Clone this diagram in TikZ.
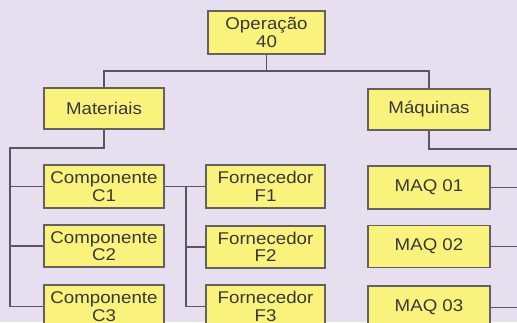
\documentclass[tikz,border=0pt]{standalone}
\usepackage{fontspec}
\newfontfamily\boxfont[FakeStretch=1.1]{Liberation Sans}
\definecolor{bgc}{HTML}{E5DFEF}
\definecolor{boxfill}{HTML}{F9F27C}
\definecolor{boxline}{HTML}{66605E}
\definecolor{linec}{HTML}{5A5660}
\definecolor{txtc}{HTML}{3A3836}
\tikzset{
  box/.style={draw=boxline, fill=boxfill, line width=1.3pt, inner sep=0pt,
    align=center, text=txtc, minimum height=42px,
    font={\boxfont\fontsize{12.75pt}{13.2pt}\selectfont}},
  conn/.style={draw=linec, line width=1.2pt},
}
\begin{document}
\begin{tikzpicture}[x=0.75pt,y=-0.75pt]
\useasboundingbox (0,0) rectangle (517,322);
\fill[bgc] (0,0) rectangle (517,322);
\clip (0,0) rectangle (517,322);

\node[box, minimum width=87.75pt, minimum height=32.25pt] (op) at (266.5,32.5) {Operação\\40};
\node[box, minimum width=90pt, minimum height=30.75pt] (mat) at (104,108.5) {Materiais};
\node[box, minimum width=91.5pt, minimum height=30.75pt] (maq) at (429,109.5) {Máquinas};

\node[box, minimum width=90pt, minimum height=32.25pt] (c1) at (104,186.5) {Componente\\C1};
\node[box, minimum width=90pt, minimum height=31.5pt] (c2) at (104,246) {Componente\\C2};
\node[box, minimum width=90pt, minimum height=32.25pt] (c3) at (104,306.5) {Componente\\C3};

\node[box, minimum width=89.25pt, minimum height=32.25pt] (f1) at (265.5,186.5) {Fornecedor\\F1};
\node[box, minimum width=89.25pt, minimum height=31.5pt] (f2) at (265.5,247) {Fornecedor\\F2};
\node[box, minimum width=89.25pt, minimum height=32.25pt] (f3) at (265.5,306.5) {Fornecedor\\F3};

\node[box, minimum width=91.5pt, minimum height=32.25pt] (m1) at (429,187.5) {MAQ 01};
\node[box, minimum width=91.5pt, minimum height=31.5pt] (m2) at (429,246.5) {MAQ 02};
\node[box, minimum width=91.5pt, minimum height=32.25pt] (m3) at (429,307.5) {MAQ 03};

\coordinate (bus) at (266.5,71);
\coordinate (lb) at (10,148);
\coordinate (fb) at (186,186.5);
\coordinate (rb) at (520,149);

\draw[conn] (op.south) -- (bus) -| (mat.north);
\draw[conn] (bus) -| (maq.north);

\draw[conn] (mat.south) |- (lb) |- (c3.west);
\draw[conn] (lb |- c1.west) -- (c1.west);
\draw[conn] (lb |- c2.west) -- (c2.west);

\draw[conn] (c1.east) -- (f1.west);
\draw[conn] (fb) |- (f2.west);
\draw[conn] (fb) |- (f3.west);

\draw[conn] (maq.south) |- (rb);
\draw[conn] (m1.east) -- (m1.east -| rb);
\draw[conn] (m2.east) -- (m2.east -| rb);
\draw[conn] (m3.east) -- (m3.east -| rb);
\end{tikzpicture}
\end{document}
